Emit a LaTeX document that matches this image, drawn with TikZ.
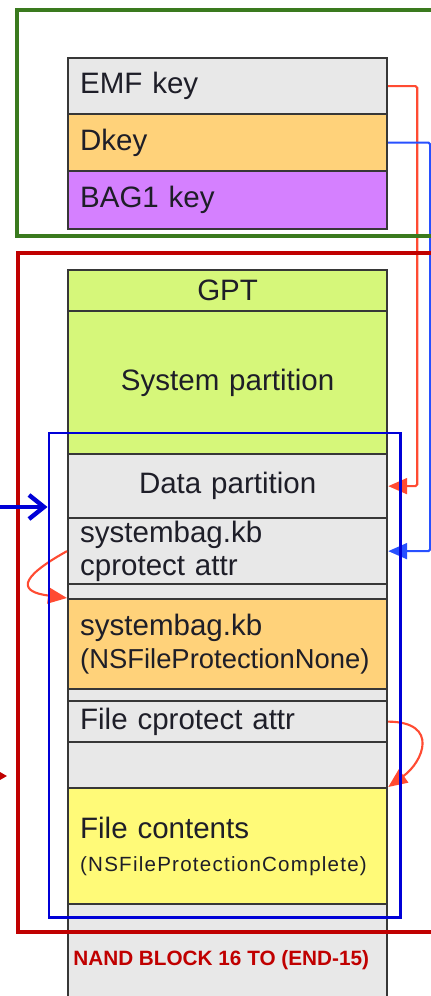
\documentclass[tikz,border=0pt]{standalone}
\usepackage{fontspec}
\setmainfont{Liberation Sans}
\usetikzlibrary{arrows.meta,fit}

\definecolor{cellgray}{RGB}{232,232,232}
\definecolor{cellorange}{RGB}{255,210,122}
\definecolor{cellpurple}{RGB}{213,128,255}
\definecolor{cellgreen}{RGB}{214,247,122}
\definecolor{cellyellow}{RGB}{255,250,120}
\definecolor{cellline}{RGB}{55,55,55}
\definecolor{textdark}{RGB}{30,30,40}
\definecolor{framegreen}{RGB}{58,122,30}
\definecolor{framered}{RGB}{192,0,0}
\definecolor{frameblue}{RGB}{0,0,215}
\definecolor{keyred}{RGB}{255,75,50}
\definecolor{keyblue}{RGB}{40,80,255}

\begin{document}
\begin{tikzpicture}[x=0.02cm,y=-0.02cm,
	cell/.style={draw=cellline, line width=1.3pt, anchor=north west, minimum width=6.38cm,
		text width=5.9cm, inner xsep=0.24cm, inner ysep=0pt, align=left, text=textdark,
		font=\fontsize{16.8}{19}\selectfont},
	mid/.style={align=center},
	frame/.style={inner sep=0pt},
	keyline/.style={line width=1.2pt, rounded corners=1pt},
	tip/.style={-{Triangle[length=0.38cm,width=0.32cm]}}]
	
	\useasboundingbox (0,0) rectangle (430,996);
	
	% Key bag
	\node[cell, fill=cellgray, minimum height=1.12cm] (emf) at (67,57) {EMF key};
	\node[cell, fill=cellorange, minimum height=1.14cm] (dkey) at (67,113) {Dkey};
	\node[cell, fill=cellpurple, minimum height=1.16cm] (bag) at (67,170) {BAG1 key};
	
	% NAND layout
	\node[cell, mid, fill=cellgreen, minimum height=0.82cm] (gpt) at (67,269) {GPT};
	\node[cell, mid, fill=cellgreen, minimum height=2.86cm] (syspart) at (67,310) {System partition};
	\node[cell, mid, fill=cellgray, minimum height=1.28cm] (datapart) at (67,453) {Data partition};
	\node[cell, fill=cellgray, minimum height=1.32cm] (sbattr) at (67,517) {systembag.kb\\cprotect attr};
	\node[cell, fill=cellgray, minimum height=0.30cm] (gapa) at (67,583) {};
	\node[cell, fill=cellorange, minimum height=1.80cm] (sbfile) at (67,598)
		{systembag.kb\\{\fontsize{15.6}{19}\selectfont(NSFileProtectionNone)}};
	\node[cell, fill=cellgray, minimum height=0.24cm] (gapb) at (67,688) {};
	\node[cell, fill=cellgray, minimum height=0.82cm] (fattr) at (67,700) {File cprotect attr};
	\node[cell, fill=cellgray, minimum height=0.92cm] (gapc) at (67,741) {};
	\node[cell, fill=cellyellow, minimum height=2.32cm] (fcont) at (67,787)
		{File contents\\{\fontsize{11.7}{19}\selectfont\addfontfeature{LetterSpace=6}(NSFileProtectionComplete)}};
	\node[cell, fill=cellgray, minimum height=2.14cm] (tail) at (67,903) {};
	
	% Keys to their targets
	\draw[keyline, tip, draw=keyred] (emf.east) -- ++(29,0) |- (datapart.east);
	\draw[keyline, tip, draw=keyblue] (dkey.east) -- ++(42,0) |- (sbattr.east);
	\draw[keyline, tip, draw=keyred] (sbattr.west) .. controls (15,580) and (21,592) .. (sbfile.north west);
	\draw[keyline, tip, draw=keyred] (fattr.east) .. controls (440,722) and (423,762) .. (fcont.north east);
	
	% Frames
	\node[frame, draw=framegreen, line width=2.8pt, fit={(17,10) (450,236)}] (keyframe) {};
	\node[frame, draw=framered, line width=2pt, fit={(18,253) (450,932)}] (nandframe) {};
	\node[frame, draw=frameblue, line width=1.7pt, fit={(49,433) (400,917)}] (dataframe) {};
	
	% Incoming arrows
	\coordinate (dvin) at (-5,507);
	\draw[line width=2.5pt, draw=frameblue, -{Straight Barb[length=0.3cm,width=0.48cm]}] (dvin) -- (dvin -| dataframe.west);
	\coordinate (nin) at (-20,776);
	\coordinate (nout) at (7,776);
	\draw[line width=1.2pt, draw=framered, -{Triangle[length=0.22cm,width=0.24cm]}] (nin) -- (nout);
	
	% Label
	\node[anchor=west, inner sep=0pt, text=framered, font=\bfseries\fontsize{11.8}{14}\selectfont] (nandlabel) at (73,960) {NAND BLOCK 16 TO (END-15)};
	
\end{tikzpicture}
\end{document}
